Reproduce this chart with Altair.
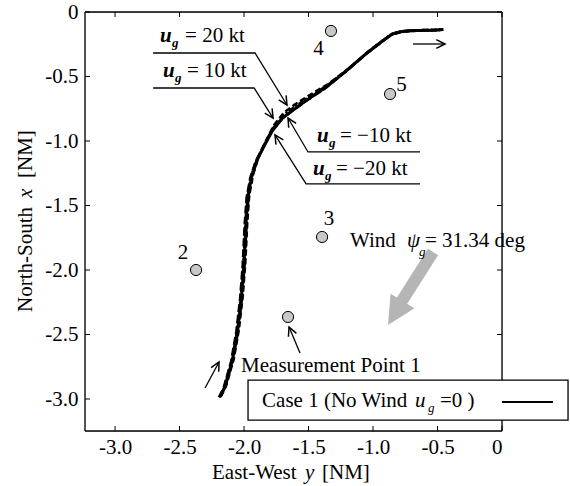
import altair as alt
import pandas as pd

FONT = "Liberation Serif"
FS = 21

# ---------------- data ----------------
# Case 1 (no wind) trajectory: East-West y [NM], North-South x [NM]
case1_ew = [-2.186, -2.15, -2.09, -2.05, -2.02, -2.00, -1.985, -1.97, -1.94, -1.90, -1.85,
            -1.78, -1.70, -1.62, -1.51, -1.36, -1.20, -1.05, -0.92, -0.85, -0.78, -0.70,
            -0.60, -0.50, -0.455]
case1_ns = [-2.984, -2.91, -2.70, -2.47, -2.21, -1.95, -1.64, -1.43, -1.27, -1.15, -1.05,
            -0.92, -0.82, -0.76, -0.68, -0.58, -0.45, -0.32, -0.22, -0.17, -0.152, -0.145,
            -0.142, -0.14, -0.135]
# wind cases (almost overlapping)
u20_ew = [-2.18, -2.14, -2.08, -2.04, -2.01, -1.99, -1.975, -1.96, -1.93, -1.89, -1.84,
          -1.77, -1.69, -1.61, -1.50, -1.35, -1.19, -1.04, -0.91, -0.84, -0.77, -0.69,
          -0.59, -0.50, -0.46]
u20_ns = [-2.98, -2.90, -2.69, -2.46, -2.20, -1.94, -1.63, -1.42, -1.26, -1.13, -1.02,
          -0.88, -0.78, -0.72, -0.65, -0.56, -0.44, -0.31, -0.21, -0.165, -0.148, -0.142,
          -0.14, -0.14, -0.135]
u10_ew = [-2.183, -2.145, -2.085, -2.045, -2.015, -1.995, -1.98, -1.965, -1.935, -1.895,
          -1.845, -1.775, -1.695, -1.615, -1.505, -1.355, -1.195, -1.045, -0.915, -0.845,
          -0.775, -0.695, -0.595, -0.50, -0.458]
u10_ns = [-2.982, -2.905, -2.695, -2.465, -2.205, -1.945, -1.635, -1.425, -1.265, -1.14,
          -1.035, -0.90, -0.80, -0.74, -0.665, -0.57, -0.445, -0.315, -0.215, -0.168,
          -0.15, -0.144, -0.141, -0.14, -0.135]
um10_ew = [-2.19, -2.155, -2.095, -2.055, -2.025, -2.005, -1.99, -1.975, -1.945, -1.905,
           -1.855, -1.785, -1.705, -1.625, -1.515, -1.365, -1.205, -1.055, -0.925, -0.855,
           -0.785, -0.705, -0.605, -0.505, -0.455]
um10_ns = [-2.986, -2.915, -2.705, -2.475, -2.215, -1.955, -1.645, -1.435, -1.275, -1.155,
           -1.055, -0.925, -0.825, -0.765, -0.685, -0.585, -0.455, -0.325, -0.225, -0.172,
           -0.154, -0.146, -0.142, -0.14, -0.135]
um20_ew = [-2.195, -2.16, -2.10, -2.06, -2.03, -2.01, -1.995, -1.98, -1.95, -1.91, -1.86,
           -1.79, -1.71, -1.63, -1.52, -1.37, -1.21, -1.06, -0.93, -0.86, -0.79, -0.71,
           -0.61, -0.51, -0.455]
um20_ns = [-2.988, -2.92, -2.71, -2.48, -2.22, -1.96, -1.65, -1.44, -1.28, -1.16, -1.06,
           -0.93, -0.83, -0.77, -0.69, -0.59, -0.46, -0.33, -0.23, -0.175, -0.156, -0.147,
           -0.143, -0.14, -0.135]

# measurement points
mp_ew = [-1.659, -2.372, -1.395, -1.326, -0.868]
mp_ns = [-2.364, -2.000, -1.744, -0.147, -0.636]
mp_lbl = ["2", "3", "4", "5"]
mp_lbl_ew = [-2.473, -1.341, -1.422, -0.779]
mp_lbl_ns = [-1.915, -1.651, -0.333, -0.612]

tick_vals = [-3.0, -2.5, -2.0, -1.5, -1.0, -0.5, 0.0]

# ---------------- tables ----------------
rows = []
for name, ew, ns in [("case1", case1_ew, case1_ns), ("u20", u20_ew, u20_ns),
                     ("u10", u10_ew, u10_ns), ("um10", um10_ew, um10_ns),
                     ("um20", um20_ew, um20_ns)]:
    for i, (a, b) in enumerate(zip(ew, ns)):
        rows.append({"case": name, "i": i, "ew": a, "ns": b})
traj = pd.DataFrame(rows)

pts = pd.DataFrame({"ew": mp_ew, "ns": mp_ns})
plbl = pd.DataFrame({"ew": mp_lbl_ew, "ns": mp_lbl_ns, "t": mp_lbl})

# callout leader polylines
callouts = pd.DataFrame([
    {"g": "a", "i": 0, "ew": -2.705, "ns": -0.318}, {"g": "a", "i": 1, "ew": -1.915, "ns": -0.318},
    {"g": "a", "i": 2, "ew": -1.667, "ns": -0.721},
    {"g": "b", "i": 0, "ew": -2.705, "ns": -0.589}, {"g": "b", "i": 1, "ew": -1.922, "ns": -0.589},
    {"g": "b", "i": 2, "ew": -1.775, "ns": -0.822},
    {"g": "c", "i": 0, "ew": -0.636, "ns": -1.085}, {"g": "c", "i": 1, "ew": -1.504, "ns": -1.085},
    {"g": "c", "i": 2, "ew": -1.659, "ns": -0.822},
    {"g": "d", "i": 0, "ew": -0.636, "ns": -1.333}, {"g": "d", "i": 1, "ew": -1.519, "ns": -1.333},
    {"g": "d", "i": 2, "ew": -1.760, "ns": -0.953},
    {"g": "e", "i": 0, "ew": -2.302, "ns": -2.915}, {"g": "e", "i": 1, "ew": -2.194, "ns": -2.713},
    {"g": "f", "i": 0, "ew": -1.566, "ns": -2.643}, {"g": "f", "i": 1, "ew": -1.651, "ns": -2.442},
    {"g": "h", "i": 0, "ew": -0.690, "ns": -0.248}, {"g": "h", "i": 1, "ew": -0.442, "ns": -0.248},
])
heads = pd.DataFrame({
    "ew": [-1.667, -1.775, -1.659, -1.760, -2.194, -1.651, -0.442],
    "ns": [-0.721, -0.822, -0.822, -0.953, -2.713, -2.442, -0.248],
    "ang": [148.4, 147.7, 329.5, 327.7, 28.3, 337.1, 90.0],
})

wind_shaft = pd.DataFrame({"ew": [-0.535], "ns": [-1.860], "ew2": [-0.805], "ns2": [-2.285]})
wind_head = pd.DataFrame({"ew": [-0.884], "ns": [-2.426], "ang": [211.34]})

txt_norm = pd.DataFrame({
    "ew": [-2.457, -2.442, -1.256, -1.287, -2.023, -1.178, -0.597],
    "ns": [-0.230, -0.502, -1.008, -1.264, -2.791, -1.822, -1.822],
    "t": ["= 20 kt", "= 10 kt", "= \u221210 kt", "= \u221220 kt", "Measurement Point 1",
          "Wind", "= 31.34 deg"],
})
txt_u = pd.DataFrame({
    "ew": [-2.651, -2.628, -1.434, -1.465],
    "ns": [-0.230, -0.502, -1.008, -1.264],
    "t": ["u", "u", "u", "u"],
})
txt_ug = pd.DataFrame({
    "ew": [-2.558, -2.535, -1.341, -1.372],
    "ns": [-0.271, -0.543, -1.047, -1.302],
    "t": ["g"] * 4,
})
txt_psi = pd.DataFrame({"ew": [-0.736], "ns": [-1.822], "t": ["\u03c8"]})
txt_psig = pd.DataFrame({"ew": [-0.643], "ns": [-1.891], "t": ["g"]})
leg_norm = pd.DataFrame({"ew": [-1.860, -0.481], "ns": [-3.062, -3.062],
                         "t": ["Case 1 (No Wind", "=0 )"]})
leg_ital = pd.DataFrame({"ew": [-0.674], "ns": [-3.062], "t": ["u"]})
leg_sub = pd.DataFrame({"ew": [-0.574], "ns": [-3.101], "t": ["g"]})
legend_box = pd.DataFrame({"ew": [-1.969], "ew2": [0.512], "ns": [-2.853], "ns2": [-3.163]})
legend_line = pd.DataFrame({"ew": [0.0], "ew2": [0.395], "ns": [-3.023]})
ticks = pd.DataFrame({"v": tick_vals})

# axis titles (pieces: normal / italic / normal)
xtitle = ["East-West", "y", "[NM]"]
ytitle = ["North-South", "x", "[NM]"]

W, H = 417, 419
xs = alt.Scale(domain=[-3.233, 0.0], nice=False, zero=False)
ys = alt.Scale(domain=[-3.248, 0.0], nice=False, zero=False)
label_expr = "datum.value == 0 ? '0' : '-' + format(abs(datum.value), '.1f')"

AX_X = alt.Axis(values=tick_vals, labelExpr=label_expr, ticks=False, domain=False, grid=False,
                labelFont=FONT, labelFontSize=FS, labelColor="black", labelPadding=5,
                title="")
AX_Y = alt.Axis(values=tick_vals, labelExpr=label_expr, ticks=False, domain=False, grid=False,
                labelFont=FONT, labelFontSize=FS, labelColor="black", labelPadding=7,
                title="")


def X(f="ew"):
    return alt.X(f"{f}:Q", scale=xs, axis=AX_X)


def Y(f="ns"):
    return alt.Y(f"{f}:Q", scale=ys, axis=AX_Y)


one = pd.DataFrame({"v": [0]})

# frame
frame = alt.layer(
    alt.Chart(one).mark_rule(color="black", strokeWidth=1.3).encode(
        x=alt.value(0), y=alt.value(0), y2=alt.value(H)),
    alt.Chart(one).mark_rule(color="black", strokeWidth=1.3).encode(
        x=alt.value(W), y=alt.value(0), y2=alt.value(H)),
    alt.Chart(one).mark_rule(color="black", strokeWidth=1.3).encode(
        y=alt.value(0), x=alt.value(0), x2=alt.value(W)),
    alt.Chart(one).mark_rule(color="black", strokeWidth=1.3).encode(
        y=alt.value(H), x=alt.value(0), x2=alt.value(W)),
)
tick_marks = alt.layer(
    alt.Chart(ticks).mark_rule(color="black", strokeWidth=1).encode(
        x=X("v"), y=alt.value(H), y2=alt.value(H - 5)),
    alt.Chart(ticks).mark_rule(color="black", strokeWidth=1).encode(
        x=X("v"), y=alt.value(0), y2=alt.value(5)),
    alt.Chart(ticks).mark_rule(color="black", strokeWidth=1).encode(
        y=Y("v"), x=alt.value(0), x2=alt.value(5)),
    alt.Chart(ticks).mark_rule(color="black", strokeWidth=1).encode(
        y=Y("v"), x=alt.value(W), x2=alt.value(W - 5)),
)


def title_piece(text, x, y, italic=False, angle=0):
    kw = dict(font=FONT, fontSize=FS, align="left", baseline="alphabetic", color="black",
              text=text)
    if italic:
        kw["fontStyle"] = "italic"
    if angle:
        kw["angle"] = angle
    return alt.Chart(one).mark_text(**kw).encode(x=alt.value(x), y=alt.value(y))


titles = alt.layer(
    title_piece(xtitle[0], 127, 467),
    title_piece(xtitle[1], 220, 467, italic=True),
    title_piece(xtitle[2], 237, 467),
    title_piece(ytitle[0], -53, 300, angle=270),
    title_piece(ytitle[1], -53, 186, italic=True, angle=270),
    title_piece(ytitle[2], -53, 166, angle=270),
)

wind = alt.layer(
    alt.Chart(wind_shaft).mark_rule(color="#b5b5b5", strokeWidth=12, strokeCap="butt").encode(
        x=X(), y=Y(), x2="ew2:Q", y2="ns2:Q"),
    alt.Chart(wind_head).mark_point(shape="M0,0L-1,2L1,2Z", filled=True, color="#b5b5b5",
                                    size=784, opacity=1).encode(
        x=X(), y=Y(), angle=alt.Angle("ang:Q", scale=None)),
)

dash_map = {"case1": [1, 0], "u20": [6, 3], "u10": [6, 2, 2, 2], "um10": [2, 2], "um20": [8, 3]}
traj_layers = []
for name in ["u20", "u10", "um10", "um20", "case1"]:
    traj_layers.append(
        alt.Chart(traj[traj["case"] == name]).mark_line(
            color="black", strokeWidth=3.0 if name == "case1" else 2.6,
            strokeDash=dash_map[name]).encode(x=X(), y=Y(), order="i:Q"))

lines = alt.Chart(callouts).mark_line(color="black", strokeWidth=1.3).encode(
    x=X(), y=Y(), detail="g:N", order="i:Q")
arrowheads = alt.Chart(heads).mark_point(shape="M-0.5,1L0,0L0.5,1", filled=False,
                                         color="black", strokeWidth=1.5, size=300,
                                         opacity=1).encode(
    x=X(), y=Y(), angle=alt.Angle("ang:Q", scale=None))

circles = alt.Chart(pts).mark_point(shape="circle", filled=True, fill="#c8c8c8",
                                    stroke="black", strokeWidth=1, size=125, opacity=1).encode(
    x=X(), y=Y())


def txt(df, size=FS, italic=False, bold=False, align="left"):
    kw = dict(font=FONT, fontSize=size, align=align, baseline="alphabetic", color="black")
    if italic:
        kw["fontStyle"] = "italic"
    if bold:
        kw["fontWeight"] = "bold"
    return alt.Chart(df).mark_text(**kw).encode(x=X(), y=Y(), text="t:N")


lbox = alt.Chart(legend_box).mark_rect(fill="white", stroke="black", strokeWidth=1.3).encode(
    x=X(), x2="ew2:Q", y=Y(), y2="ns2:Q")
lline = alt.Chart(legend_line).mark_rule(color="black", strokeWidth=2).encode(
    x=X(), x2="ew2:Q", y=Y())

chart = alt.layer(
    frame, tick_marks, titles, wind, *traj_layers, lines, arrowheads, circles,
    txt(plbl, align="center"),
    txt(txt_norm), txt(txt_u, italic=True, bold=True), txt(txt_ug, 13, True, True),
    txt(txt_psi, italic=True), txt(txt_psig, 13, True),
    lbox, txt(leg_norm), txt(leg_ital, italic=True), txt(leg_sub, 13, True), lline,
).properties(
    width=W, height=H,
    autosize=alt.AutoSizeParams(type="none"),
    padding={"left": 85, "top": 12, "right": 68, "bottom": 55},
).configure_view(stroke=None).configure(background="white")

chart.save("out.html", embed_options={"renderer": "svg", "actions": False})
